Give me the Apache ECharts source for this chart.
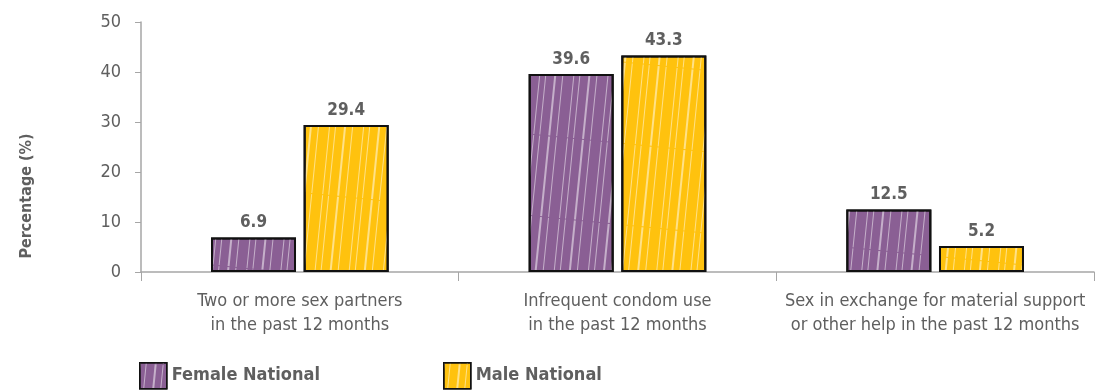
<!DOCTYPE html>
<html><head><meta charset="utf-8">
<script src="https://cdn.jsdelivr.net/npm/echarts@6/dist/echarts.min.js"></script>
<style>html,body{margin:0;padding:0;background:#fff}#c{width:1095px;height:392px}</style>
</head><body><div id="c"></div>
<script>
const categories = ["Two or more sex partners\nin the past 12 months", "Infrequent condom use\nin the past 12 months", "Sex in exchange for material support\nor other help in the past 12 months"];
const femaleNational = [6.9, 39.6, 12.5];
const maleNational = [29.4, 43.3, 5.2];
const yTicks = [0, 10, 20, 30, 40, 50];
const yTitle = 'Percentage (%)';
const FONT = '"DejaVu Sans Condensed","DejaVu Sans",sans-serif';
const TXT = '#5f5f5f';
const chart = echarts.init(document.getElementById('c'));
const decal = {symbol:'rect', symbolSize:1, dashArrayX:[[1,5,1,8,2,6,1,10]], dashArrayY:[80,1], rotation:0.1, color:'rgba(255,255,255,0.5)'};
function barSeries(name, data, color){
  return {name, type:'bar', data, barWidth:85, barGap:'9%',
    itemStyle:{color, borderColor:'#111', borderWidth:2, decal},
    label:{show:true, position:'top', distance:6, formatter:p=>p.value.toFixed(1), color:TXT, fontFamily:FONT, fontWeight:'bold', fontSize:17}};
}
const legendCommon = {top:362, padding:0, itemWidth:27, itemHeight:26, itemGap:8, icon:'rect',
  textStyle:{color:TXT, fontFamily:FONT, fontWeight:'bold', fontSize:18},
  itemStyle:{borderColor:'#111', borderWidth:1.5}};
chart.setOption({
  animation:false,
  aria:{enabled:false, decal:{show:true}},
  grid:{left:141, right:1, top:22, bottom:120, containLabel:false},
  legend:[
    Object.assign({data:['Female National'], left:139}, legendCommon),
    Object.assign({data:['Male National'], left:443}, legendCommon)
  ],
  graphic:[{type:'text', x:27, y:196, rotation:Math.PI/2,
    style:{text:yTitle, fill:TXT, font:'bold 16px ' + FONT, align:'center', verticalAlign:'middle'}}],
  xAxis:{type:'category', data:categories, boundaryGap:true,
    axisLine:{lineStyle:{color:'#a6a6a6', width:1.5}},
    axisTick:{show:true, length:9, lineStyle:{color:'#a6a6a6'}},
    axisLabel:{color:TXT, fontFamily:FONT, fontSize:18, lineHeight:24, margin:17, interval:0}},
  yAxis:{type:'value', min:0, max:50, interval:10,
    axisLine:{show:true, lineStyle:{color:'#a6a6a6', width:1.5}},
    axisTick:{show:true, length:6, lineStyle:{color:'#a6a6a6'}},
    splitLine:{show:false},
    axisLabel:{color:TXT, fontFamily:FONT, fontSize:18, margin:20,
      formatter:v=>yTicks.includes(v)?String(v):''}},
  series:[barSeries('Female National', femaleNational, '#8a5f94'), barSeries('Male National', maleNational, '#ffc20e')]
});
</script></body></html>
